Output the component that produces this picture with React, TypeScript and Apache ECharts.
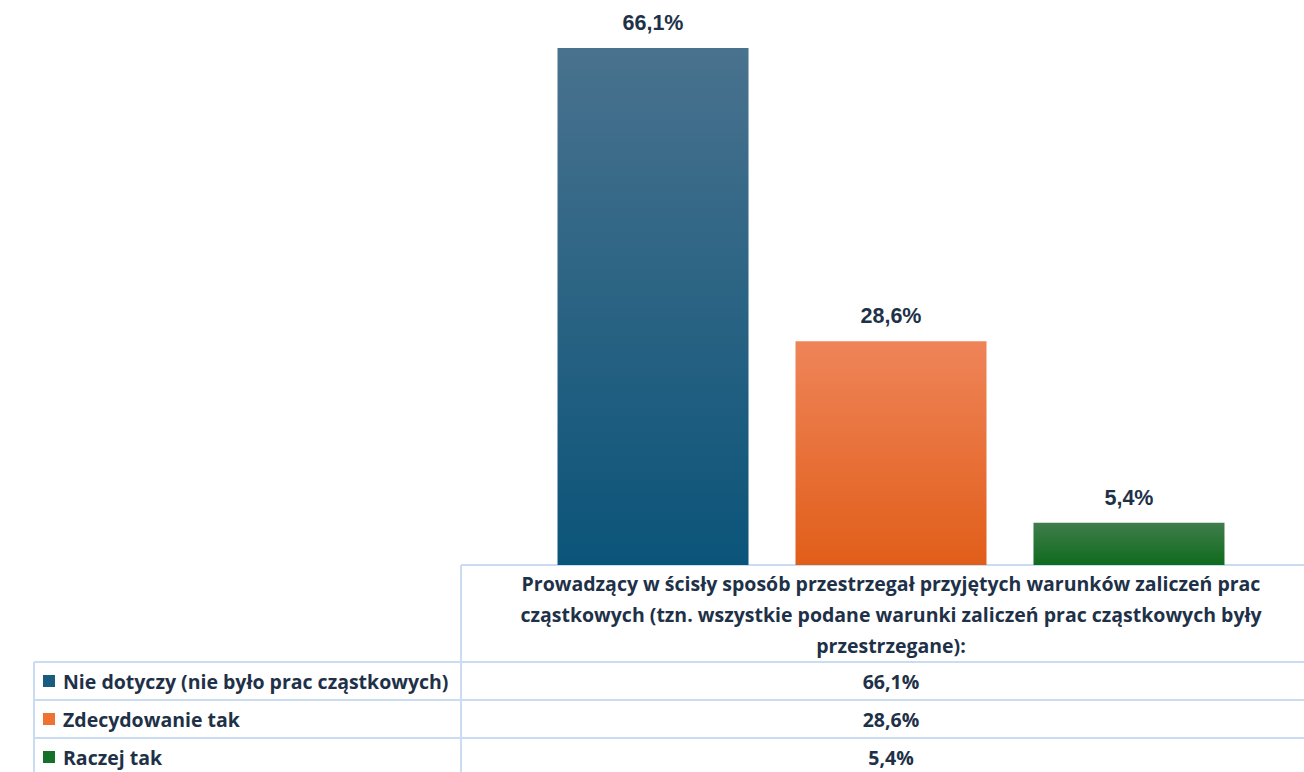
import React, { useEffect, useRef } from "react";
import * as echarts from "echarts";

const categories = [
  "Prowadzący w ścisły sposób przestrzegał przyjętych warunków zaliczeń prac cząstkowych (tzn. wszystkie podane warunki zaliczeń prac cząstkowych były przestrzegane):",
];
const headerWordsPerLine = [9, 9];
const seriesNames = [
  "Nie dotyczy (nie było prac cząstkowych)",
  "Zdecydowanie tak",
  "Raczej tak",
];
const seriesValues = [[66.1], [28.6], [5.4]];
const axisMax = 70;

const W = 1304;
const H = 772;
const GRID_LEFT = 461;
const GRID_WIDTH = 860;
const GRID_TOP = 17.5;
const GRID_BOTTOM = 207;
const ROW_H = 38;
const HEADER_BOTTOM = 662;
const LABEL_LEFT = 34;
const LINE_COLOR = "#c9dcf2";
const TEXT_COLOR = "#1e3148";
const TABLE_FONT = "'Open Sans', 'Noto Sans', sans-serif";
const TABLE_SIZE = 19.5;

const barGradients = [
  ["#49728e", "#0b5479"],
  ["#ef8459", "#e15e19"],
  ["#407d4b", "#0e6b1d"],
];
const keyColors = ["#1a5c80", "#f07232", "#17702a"];

const fmt = (v: number) => v.toFixed(1).replace(".", ",") + "%";

const wrapHeader = (text: string) => {
  const words = text.split(" ");
  const lines: string[] = [];
  let idx = 0;
  headerWordsPerLine.forEach((n) => {
    lines.push(words.slice(idx, idx + n).join(" "));
    idx += n;
  });
  if (idx < words.length) lines.push(words.slice(idx).join(" "));
  return lines.join("\n");
};

export default function App() {
  const ref = useRef<HTMLDivElement>(null);
  useEffect(() => {
    if (!ref.current) return;
    const chart = echarts.init(ref.current, null, { renderer: "svg" });
    const baseY = H - GRID_BOTTOM;
    const colCenter = GRID_LEFT + GRID_WIDTH / 2;
    const tableFont = `bold ${TABLE_SIZE}px ${TABLE_FONT}`;

    const graphics: any[] = [];
    const line = (x1: number, y1: number, x2: number, y2: number) =>
      graphics.push({
        type: "line",
        shape: { x1, y1, x2, y2 },
        style: { stroke: LINE_COLOR, lineWidth: 2 },
      });
    line(GRID_LEFT, baseY, W, baseY);
    line(GRID_LEFT, baseY, GRID_LEFT, H);
    line(LABEL_LEFT, HEADER_BOTTOM, LABEL_LEFT, H);
    seriesNames.forEach((name, i) => {
      const top = HEADER_BOTTOM + i * ROW_H;
      const mid = top + ROW_H / 2;
      line(LABEL_LEFT, top, W, top);
      graphics.push({
        type: "rect",
        shape: { x: 43, y: mid - 6, width: 12, height: 12 },
        style: { fill: keyColors[i] },
      });
      graphics.push({
        type: "text",
        x: 63,
        y: mid,
        style: {
          text: name,
          fill: TEXT_COLOR,
          font: tableFont,
          verticalAlign: "middle",
          align: "left",
        },
      });
      graphics.push({
        type: "text",
        x: colCenter,
        y: mid,
        style: {
          text: fmt(seriesValues[i][0]),
          fill: TEXT_COLOR,
          font: tableFont,
          verticalAlign: "middle",
          align: "center",
        },
      });
    });
    line(LABEL_LEFT, HEADER_BOTTOM + 3 * ROW_H, W, HEADER_BOTTOM + 3 * ROW_H);

    chart.setOption({
      animation: false,
      grid: {
        left: GRID_LEFT,
        width: GRID_WIDTH,
        top: GRID_TOP,
        bottom: GRID_BOTTOM,
        containLabel: false,
        outerBoundsMode: "none",
      },
      xAxis: {
        type: "category",
        data: categories,
        axisLine: { show: false },
        axisTick: { show: false },
        axisLabel: {
          interval: 0,
          margin: 3,
          formatter: (v: string) => wrapHeader(v),
          lineHeight: 31,
          color: TEXT_COLOR,
          fontFamily: TABLE_FONT,
          fontWeight: "bold",
          fontSize: TABLE_SIZE,
          align: "center",
        },
      },
      yAxis: {
        type: "value",
        min: 0,
        max: axisMax,
        show: false,
        splitLine: { show: false },
      },
      series: seriesNames.map((name, i) => ({
        type: "bar",
        name,
        data: seriesValues[i],
        barWidth: 191,
        barGap: "24.6%",
        itemStyle: {
          color: new echarts.graphic.LinearGradient(0, 0, 0, 1, [
            { offset: 0, color: barGradients[i][0] },
            { offset: 1, color: barGradients[i][1] },
          ]),
        },
        label: {
          show: true,
          position: "top",
          distance: 14,
          formatter: (p: any) => fmt(p.value),
          color: TEXT_COLOR,
          fontFamily: "'Liberation Sans', Arial, sans-serif",
          fontWeight: "bold",
          fontSize: 21.5,
        },
      })),
      graphic: graphics,
    });
    return () => chart.dispose();
  }, []);
  return (
    <div
      ref={ref}
      style={{ position: "fixed", left: 0, top: 0, width: W, height: H, background: "#fff" }}
    />
  );
}
